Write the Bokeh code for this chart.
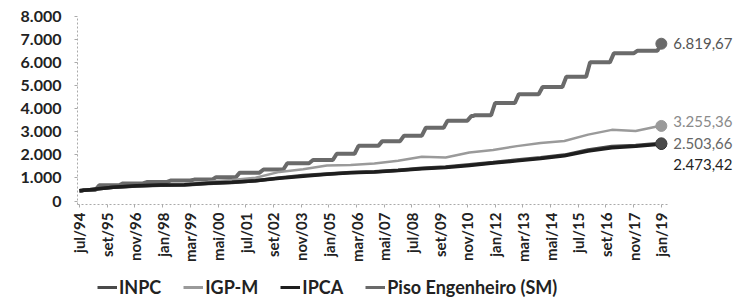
from bokeh.plotting import figure
from bokeh.layouts import column
from bokeh.models import Range1d, FixedTicker, Legend, LegendItem, Label
from bokeh.embed import file_html
from bokeh.resources import INLINE
import math

# month index: 0 = jul/94 ... 294 = jan/19
tick_months = [0, 14, 28, 42, 56, 70, 84, 98, 112, 126, 140, 154, 168, 182, 196, 210, 224, 238, 252, 266, 280, 294]
tick_labels = ["jul/94", "set/95", "nov/96", "jan/98", "mar/99", "mai/00", "jul/01", "set/02", "nov/03",
               "jan/05", "mar/06", "mai/07", "jul/08", "set/09", "nov/10", "jan/12", "mar/13", "mai/14",
               "jul/15", "set/16", "nov/17", "jan/19"]

# index series: jul/94, dec of each year 94..18, jan/19
idx_months = [0, 5, 17, 29, 41, 53, 65, 77, 89, 101, 113, 125, 137, 149, 161, 173, 185, 197, 209,
              221, 233, 245, 257, 269, 281, 293, 294]
inpc = [442.7, 492.2, 600.4, 655.2, 683.6, 700.6, 759.7, 799.7, 875.2, 1004.2, 1108.4, 1176.4, 1235.8,
        1270.5, 1336.1, 1422.7, 1481.2, 1577.0, 1672.9, 1776.6, 1875.4, 1992.2, 2216.9, 2362.8, 2411.7,
        2494.4, 2503.66]
ipca = [442.7, 491.3, 601.4, 658.9, 693.3, 704.7, 767.7, 813.5, 875.9, 985.7, 1077.4, 1159.3, 1225.3,
        1263.8, 1320.2, 1398.1, 1458.3, 1544.5, 1644.9, 1741.0, 1843.9, 1962.1, 2171.5, 2308.1, 2376.2,
        2465.3, 2473.42]
igpm = [442.7, 501.5, 578.0, 631.2, 680.0, 692.1, 831.2, 913.9, 1008.7, 1264.0, 1373.8, 1544.5, 1563.2,
        1623.1, 1748.9, 1920.5, 1887.5, 2101.2, 2208.3, 2381.0, 2512.2, 2604.9, 2879.5, 3085.9, 3040.0,
        3252.0, 3255.36]

# Piso Engenheiro (SM): month of each adjustment and new value
piso_months = [0, 2, 10, 22, 34, 46, 58, 69, 81, 93, 105, 118, 130, 141, 153, 164, 175, 186, 198, 200,
               210, 222, 234, 246, 258, 270, 282, 294]
piso_values = [442.7, 478.3, 683.3, 765.3, 820.0, 888.3, 929.3, 1031.8, 1230.0, 1366.7, 1640.0, 1776.7,
               2050.0, 2391.7, 2596.7, 2835.8, 3177.5, 3485.0, 3690.0, 3724.2, 4250.3, 4633.0, 4947.3,
               5384.7, 6013.3, 6402.8, 6519.0, 6819.67]

end_labels = ["6.819,67", "3.255,36", "2.503,66", "2.473,42"]
y_ticks = [0, 1000, 2000, 3000, 4000, 5000, 6000, 7000, 8000]
y_tick_labels = ["0", "1.000", "2.000", "3.000", "4.000", "5.000", "6.000", "7.000", "8.000"]
series_names = ["INPC", "IGP-M", "IPCA", "Piso Engenheiro (SM)"]

FONT = "Lato"
C_PISO = "#6a6a6a"
C_IGPM = "#9a9a9a"
C_INPC = "#4a4a4a"
C_IPCA = "#1e1e1e"

p = figure(width=740, height=272, output_backend="svg", toolbar_location=None,
           x_range=Range1d(-1, 334), y_range=Range1d(-150, 8000),
           min_border_left=77, min_border_right=0, min_border_top=16, min_border_bottom=68)
p.outline_line_color = None
p.xgrid.grid_line_color = None
p.ygrid.grid_line_color = None

# step-like piso line (previous value held until shortly before each adjustment)
px, py = [piso_months[0]], [piso_values[0]]
for i in range(1, len(piso_months)):
    lead = 2 if piso_months[i] - piso_months[i - 1] > 3 else 1
    px.append(piso_months[i] - lead)
    py.append(piso_values[i - 1])
    px.append(piso_months[i])
    py.append(piso_values[i])

p.line(px, py, line_color=C_PISO, line_width=4)
p.line(idx_months, igpm, line_color=C_IGPM, line_width=2.5)
p.line(idx_months, inpc, line_color=C_INPC, line_width=3.5)
p.line(idx_months, ipca, line_color=C_IPCA, line_width=3.5)

p.scatter([piso_months[-1]], [piso_values[-1]], size=11, color=C_PISO)
p.scatter([idx_months[-1]], [igpm[-1]], size=11, color=C_IGPM)
p.scatter([idx_months[-1]], [ipca[-1]], size=11, color=C_IPCA)
p.scatter([idx_months[-1]], [inpc[-1]], size=11, color=C_INPC)

for val, txt, col, yoff in [(piso_values[-1], end_labels[0], "#555555", 0),
                            (igpm[-1], end_labels[1], "#8a8a8a", 4),
                            (inpc[-1], end_labels[2], "#666666", 0),
                            (ipca[-1], end_labels[3], "#222222", -21)]:
    p.add_layout(Label(x=294, y=val, text=txt, x_offset=12, y_offset=yoff, text_color=col,
                       text_font=FONT, text_font_size="15px", text_baseline="middle"))

# y axis
p.yaxis.ticker = FixedTicker(ticks=y_ticks)
p.yaxis.major_label_overrides = {v: l for v, l in zip(y_ticks, y_tick_labels)}
p.yaxis.major_label_text_font = FONT
p.yaxis.major_label_text_font_style = "bold"
p.yaxis.major_label_text_font_size = "16px"
p.yaxis.major_label_text_color = "#222222"
p.yaxis.axis_line_color = "#aaaaaa"
p.yaxis.axis_line_dash = "2 2"
p.yaxis.major_tick_line_color = "#aaaaaa"
p.yaxis.major_tick_out = 3
p.yaxis.major_tick_in = 0
p.yaxis.minor_tick_line_color = None
p.yaxis.major_label_standoff = 13

# x axis
p.xaxis.ticker = FixedTicker(ticks=tick_months)
p.xaxis.major_label_overrides = {m: l for m, l in zip(tick_months, tick_labels)}
p.xaxis.major_label_orientation = math.pi / 2
p.xaxis.major_label_text_font = FONT
p.xaxis.major_label_text_font_style = "bold"
p.xaxis.major_label_text_font_size = "15px"
p.xaxis.major_label_text_color = "#222222"
p.xaxis.axis_line_color = "#aaaaaa"
p.xaxis.axis_line_dash = "2 2"
p.xaxis.major_tick_line_color = "#aaaaaa"
p.xaxis.major_tick_out = 3
p.xaxis.major_tick_in = 0
p.xaxis.minor_tick_line_color = None
p.xaxis.bounds = (-1, 297)

# legend in its own strip below the chart
lg = figure(width=740, height=26, output_backend="svg", toolbar_location=None,
            x_range=Range1d(0, 1), y_range=Range1d(0, 1),
            x_axis_location=None, y_axis_location=None,
            min_border_left=0, min_border_right=0, min_border_top=0, min_border_bottom=0)
lg.outline_line_color = None
lg.xgrid.grid_line_color = None
lg.ygrid.grid_line_color = None
rs = [lg.line([-5, -4], [-5, -5], line_color=c, line_width=3) for c in [C_INPC, C_IGPM, C_IPCA, C_PISO]]
legend = Legend(items=[LegendItem(label=n, renderers=[r]) for n, r in zip(series_names, rs)],
                orientation="horizontal", location=(20, 0))
legend.label_text_font = FONT
legend.label_text_font_style = "bold"
legend.label_text_font_size = "18px"
legend.label_text_color = "#222222"
legend.glyph_width = 20
legend.glyph_height = 20
legend.label_standoff = 2
legend.spacing = 22
legend.padding = 2
legend.margin = 0
legend.border_line_color = None
legend.background_fill_alpha = 0
lg.add_layout(legend, "center")

layout = column(p, lg, spacing=0)
open("out.html", "w").write(file_html(layout, INLINE))
